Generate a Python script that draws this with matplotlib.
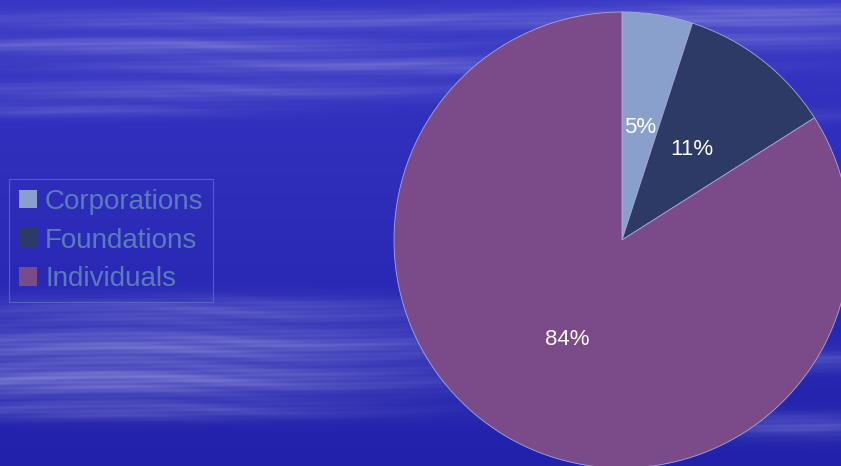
import numpy as np
import matplotlib.pyplot as plt
from matplotlib.patches import Patch

plt.rcParams['font.family'] = ['Liberation Sans', 'DejaVu Sans']

labels = ['Corporations', 'Foundations', 'Individuals']
shares = [5, 11, 84]
colors = ['#8aa0cc', '#2e3a66', '#7b4a88']

W, H = 841, 466


def sky_background(w, h):
    """Blue backdrop with soft white horizontal streaks."""
    yy, xx = np.mgrid[0:h, 0:w].astype(float)
    base = np.zeros((h, w, 3))
    t = yy / h
    base[..., 0] = 0.21 - 0.08 * t
    base[..., 1] = 0.21 - 0.08 * t
    base[..., 2] = 0.77 - 0.10 * t
    # (y centre, y spread, x centre, x spread, strength)
    streaks = [
        (20, 10, 300, 380, 0.30), (45, 8, 150, 260, 0.40), (65, 9, 380, 300, 0.35),
        (90, 10, 200, 300, 0.28), (110, 7, 60, 180, 0.22), (15, 12, 780, 200, 0.35),
        (40, 10, 760, 180, 0.25), (115, 6, 760, 120, 0.15),
        (310, 14, 200, 260, 0.30), (345, 18, 160, 330, 0.45), (380, 16, 100, 320, 0.50),
        (410, 10, 120, 260, 0.30), (360, 10, 800, 120, 0.25), (425, 12, 800, 120, 0.30),
    ]
    glow = np.zeros((h, w))
    for yc, ys, xc, xs, s in streaks:
        glow += s * np.exp(-((yy - yc) / ys) ** 2 - ((xx - xc) / xs) ** 2)
    ripple = (0.8 + 0.12 * np.sin(yy * 0.45 + np.sin(xx / 70.0) * 3.0)
              + 0.08 * np.sin(yy * 1.3 + xx / 55.0))
    glow = np.clip(glow * ripple, 0, 0.75)
    img = base * (1 - glow[..., None]) + glow[..., None] * np.array([0.82, 0.82, 0.95])
    return np.clip(img, 0, 1)


fig = plt.figure(figsize=(W / 100, H / 100), dpi=100)
ax = fig.add_axes([0, 0, 1, 1])
ax.imshow(sky_background(W, H), extent=(0, W, 0, H), origin='upper', zorder=0)

wedges, texts, autotexts = ax.pie(
    shares, colors=colors, startangle=90, counterclock=False,
    center=(622, H - 240), radius=228, autopct='%d%%', pctdistance=0.5,
    wedgeprops=dict(edgecolor='#a8a8d8', linewidth=0.6),
    textprops=dict(color='white', fontsize=16))
for w in wedges:
    w.set_zorder(2)
for t in autotexts:
    t.set_zorder(3)

ax.set_xlim(0, W)
ax.set_ylim(0, H)
ax.set_aspect('auto')
ax.axis('off')

handles = [Patch(facecolor=c, edgecolor='none') for c in colors]
leg = fig.legend(handles, labels, loc='upper left',
                 bbox_to_anchor=(9 / W, 1 - 179 / H), frameon=True,
                 fontsize=20, handlelength=0.65, handleheight=0.65,
                 handletextpad=0.3, labelspacing=0.46, borderpad=0.35,
                 fancybox=False, borderaxespad=0)
leg.get_frame().set_facecolor('none')
leg.get_frame().set_edgecolor('#5a6ec4')
leg.get_frame().set_linewidth(0.8)
for txt in leg.get_texts():
    txt.set_color('#5a7cbc')

fig.savefig('out.png', dpi=100)
